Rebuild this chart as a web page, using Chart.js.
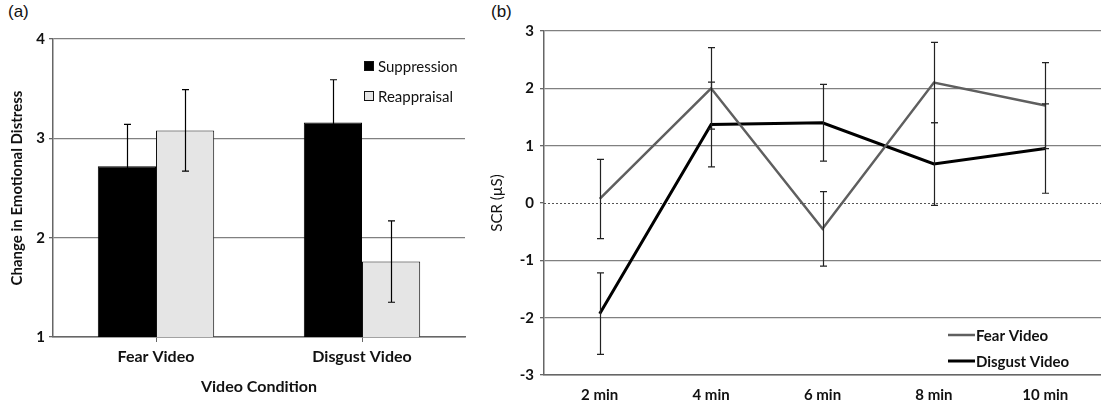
<!DOCTYPE html>
<html>
<head>
<meta charset="utf-8">
<script src="https://cdn.jsdelivr.net/npm/chart.js@4/dist/chart.umd.min.js"></script>
<style>
  body { margin: 0; background: #fff; width: 1101px; height: 400px; overflow: hidden; position: relative; font-family: Lato, sans-serif; }
  canvas { position: absolute; top: 0; }
  #chartA { left: 0; }
  #chartB { left: 480px; }
  .panel { position: absolute; top: 2px; font: 17px "Liberation Sans", Arial, sans-serif; color: #111; }
</style>
</head>
<body>
<div class="panel" style="left:8px">(a)</div>
<div class="panel" style="left:491px">(b)</div>
<canvas id="chartA" width="480" height="400"></canvas>
<canvas id="chartB" width="621" height="400"></canvas>
<script>
// Panel (a): emotional distress by video condition
const conditions = ['Fear Video', 'Disgust Video'];
const suppression = [2.72, 3.16];
const suppressionErr = [0.42, 0.43];
const reappraisal = [3.08, 1.76];
const reappraisalErr = [0.41, 0.41];

// Panel (b): SCR over time
const timeLabels = ['2 min', '4 min', '6 min', '8 min', '10 min'];
const fearScr = [0.07, 2.0, -0.45, 2.1, 1.7];
const fearErr = [0.69, 0.71, 0.65, 0.70, 0.75];
const disgustScr = [-1.93, 1.37, 1.40, 0.68, 0.95];
const disgustErr = [0.71, 0.74, 0.67, 0.72, 0.78];

const FONT = 'Lato';
const gridGrey = '#808080';
const axisGrey = '#666';

const errorBars = {
  id: 'errorBars',
  afterDatasetsDraw(chart, args, opts) {
    const ctx = chart.ctx, y = chart.scales.y;
    ctx.save();
    ctx.strokeStyle = opts.color || '#222';
    ctx.lineWidth = 1.2;
    chart.data.datasets.forEach((ds, i) => {
      const errs = opts.errors[i];
      chart.getDatasetMeta(i).data.forEach((el, j) => {
        const v = ds.data[j], e = errs[j];
        const top = y.getPixelForValue(v + e), bot = y.getPixelForValue(v - e);
        const x = Math.round(el.x) + 0.5, c = opts.cap;
        ctx.beginPath();
        ctx.moveTo(x, top); ctx.lineTo(x, bot);
        ctx.moveTo(x - c, top); ctx.lineTo(x + c, top);
        ctx.moveTo(x - c, bot); ctx.lineTo(x + c, bot);
        ctx.stroke();
      });
    });
    ctx.restore();
  }
};

// legend drawn inside the plot area
const innerLegend = {
  id: 'innerLegend',
  afterDraw(chart, args, opts) {
    const ctx = chart.ctx, a = chart.chartArea;
    ctx.save();
    ctx.font = opts.font;
    ctx.textBaseline = 'middle';
    ctx.fillStyle = '#111';
    chart.data.datasets.forEach((ds, i) => {
      const x = a.right + opts.dx, y = a.top + opts.dy + i * opts.step;
      if (opts.kind === 'box') {
        ctx.fillStyle = ds.backgroundColor;
        ctx.fillRect(x, y - 5, 10, 10);
        ctx.strokeStyle = '#111'; ctx.lineWidth = 1;
        ctx.strokeRect(x + 0.5, y - 4.5, 9, 9);
        ctx.fillStyle = '#111';
        ctx.fillText(ds.label, x + 14, y + 1);
      } else {
        ctx.strokeStyle = ds.borderColor; ctx.lineWidth = ds.borderWidth;
        ctx.beginPath(); ctx.moveTo(x, y); ctx.lineTo(x + 27, y); ctx.stroke();
        ctx.fillStyle = '#111';
        ctx.fillText(ds.label, x + 28, y + 1);
      }
    });
    ctx.restore();
  }
};

const zeroLine = {
  id: 'zeroLine',
  beforeDatasetsDraw(chart) {
    const ctx = chart.ctx, a = chart.chartArea;
    const y = Math.round(chart.scales.y.getPixelForValue(0)) + 0.5;
    ctx.save();
    ctx.strokeStyle = '#555'; ctx.lineWidth = 1; ctx.setLineDash([2, 2]);
    ctx.beginPath(); ctx.moveTo(a.left, y); ctx.lineTo(a.right, y); ctx.stroke();
    ctx.restore();
  }
};

new Chart(document.getElementById('chartA'), {
  type: 'bar',
  data: {
    labels: conditions,
    datasets: [
      { label: 'Suppression', data: suppression, backgroundColor: '#000', borderColor: '#000', borderWidth: 1 },
      { label: 'Reappraisal', data: reappraisal, backgroundColor: '#e5e5e5', borderColor: '#111', borderWidth: 1 }
    ]
  },
  options: {
    responsive: false, animation: false,
    layout: { padding: { top: 39, right: 15, left: 0, bottom: 0 } },
    datasets: { bar: { categoryPercentage: 0.565, barPercentage: 1 } },
    plugins: {
      legend: { display: false }, tooltip: { enabled: false },
      errorBars: { errors: [suppressionErr, reappraisalErr], cap: 3.5, color: '#000' },
      innerLegend: { kind: 'box', font: '15px ' + FONT, dx: -101, dy: 27, step: 30 }
    },
    scales: {
      x: {
        grid: { offset: false, drawOnChartArea: false, tickLength: 5, color: axisGrey },
        border: { color: axisGrey, width: 1.5 },
        ticks: { color: '#111', font: { family: FONT, weight: 'bold', size: 16 }, padding: 5 },
        title: { display: true, text: 'Video Condition', color: '#111', font: { family: FONT, weight: 'bold', size: 16 }, padding: { top: 2 } },
        afterFit: s => { s.height = 63; }
      },
      y: {
        min: 1, max: 4,
        ticks: { stepSize: 1, color: '#111', font: { family: FONT, weight: 'bold', size: 15 }, padding: 4 },
        grid: { color: gridGrey, lineWidth: 1.3, tickLength: 4, tickColor: axisGrey },
        border: { color: axisGrey, width: 1.5 },
        title: { display: true, text: 'Change in Emotional Distress', color: '#111', font: { family: FONT, weight: 'bold', size: 15 }, padding: { top: 8, bottom: 0 } },
        afterFit: s => { s.width = 53; }
      }
    }
  },
  plugins: [errorBars, innerLegend]
});

new Chart(document.getElementById('chartB'), {
  type: 'line',
  data: {
    labels: timeLabels,
    datasets: [
      { label: 'Fear Video', data: fearScr, borderColor: '#5f5f5f', borderWidth: 2.5, pointRadius: 0, tension: 0 },
      { label: 'Disgust Video', data: disgustScr, borderColor: '#000', borderWidth: 3, pointRadius: 0, tension: 0 }
    ]
  },
  options: {
    responsive: false, animation: false,
    layout: { padding: { top: 31, right: 0, left: 0, bottom: 0 } },
    plugins: {
      legend: { display: false }, tooltip: { enabled: false },
      errorBars: { errors: [fearErr, disgustErr], cap: 3.5, color: '#222' },
      innerLegend: { kind: 'line', font: 'bold 15px ' + FONT, dx: -153, dy: 304, step: 26 }
    },
    scales: {
      x: {
        offset: true,
        grid: { display: false },
        border: { display: true, color: axisGrey, width: 1.5 },
        ticks: { color: '#111', font: { family: FONT, weight: 'bold', size: 15 }, padding: 3 },
        afterFit: s => { s.height = 25; }
      },
      y: {
        min: -3, max: 3,
        ticks: { stepSize: 1, color: '#111', font: { family: FONT, weight: 'bold', size: 15 }, padding: 6 },
        grid: { color: c => c.tick && c.tick.value === 0 ? 'rgba(0,0,0,0)' : gridGrey, lineWidth: 1.3, tickLength: 4, tickColor: axisGrey },
        border: { color: axisGrey, width: 1.5 },
        title: { display: true, text: 'SCR (µS)', color: '#111', font: { family: FONT, size: 15 }, padding: { top: 8, bottom: 0 } },
        afterFit: s => { s.width = 64; }
      }
    }
  },
  plugins: [zeroLine, errorBars, innerLegend]
});
</script>
</body>
</html>
